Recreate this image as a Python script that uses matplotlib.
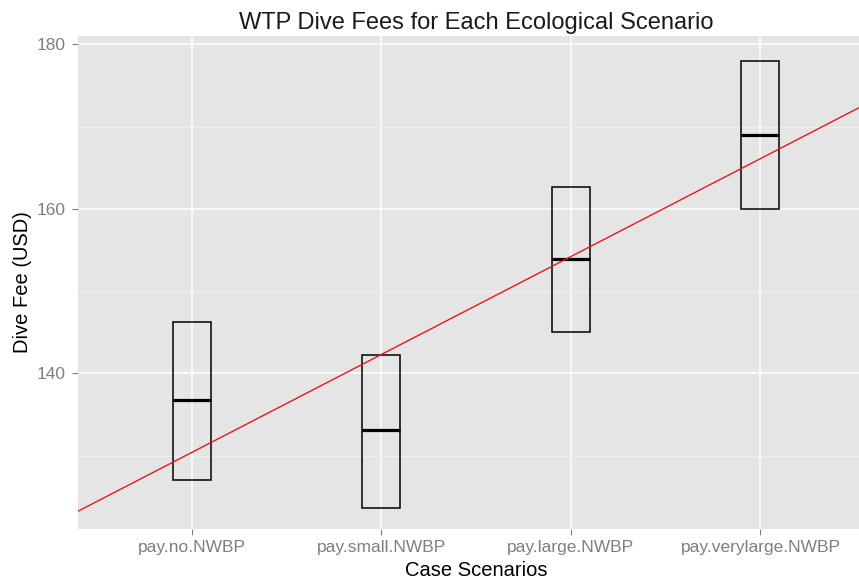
import matplotlib.pyplot as plt
import numpy as np

plt.rcParams["font.family"] = ["Liberation Sans", "DejaVu Sans"]

# scenario data
scenarios = ["pay.no.NWBP", "pay.small.NWBP", "pay.large.NWBP", "pay.verylarge.NWBP"]
fee_mid = [136.8, 133.1, 153.9, 169.0]
fee_low = [127.0, 123.6, 145.0, 160.0]
fee_high = [146.2, 142.2, 162.7, 178.0]

# fitted line across scenarios
line_intercept = 118.5
line_slope = 11.9

x = np.arange(1, len(scenarios) + 1)
low = np.array(fee_low)
high = np.array(fee_high)

fig = plt.figure(figsize=(8.59, 5.86), dpi=100)
ax = fig.add_axes([78 / 859, 1 - 529 / 586, 1 - 78 / 859, (529 - 36) / 586])
ax.set_facecolor("#E5E5E5")

# grid, ggplot style
ax.set_yticks([140, 160, 180])
ax.set_yticks([130, 150, 170], minor=True)
ax.grid(which="major", color="white", linewidth=1.1)
ax.grid(which="minor", axis="y", color="#F2F2F2", linewidth=0.6)
ax.set_axisbelow(True)

# crossbars
ax.bar(x, high - low, bottom=low, width=0.2, fill=False,
       edgecolor="black", linewidth=1.1, zorder=3)
ax.hlines(fee_mid, x - 0.1, x + 0.1, color="black", linewidth=2.3, zorder=4)

ax.axline((0, line_intercept), slope=line_slope, color="#E31A1C",
          linewidth=1.0, zorder=5)

ax.set_xlim(0.4, 4.52)
ax.set_ylim(121.1, 181.0)
ax.set_xticks(x)
ax.set_xticklabels(scenarios)

for s in ax.spines.values():
    s.set_visible(False)
ax.tick_params(which="major", length=4, width=0.8, color="#7F7F7F",
               labelcolor="#7F7F7F", labelsize=12.5)
ax.tick_params(axis="x", pad=4)
ax.tick_params(axis="y", pad=5)
ax.tick_params(which="minor", length=0)

ax.set_title("WTP Dive Fees for Each Ecological Scenario", fontsize=17,
             x=0.51, pad=5, color="#1A1A1A")
ax.set_xlabel("Case Scenarios", fontsize=14.5, labelpad=4, x=0.51)
ax.set_ylabel("Dive Fee (USD)", fontsize=14.5, labelpad=3)

fig.savefig("out.png", dpi=100)
